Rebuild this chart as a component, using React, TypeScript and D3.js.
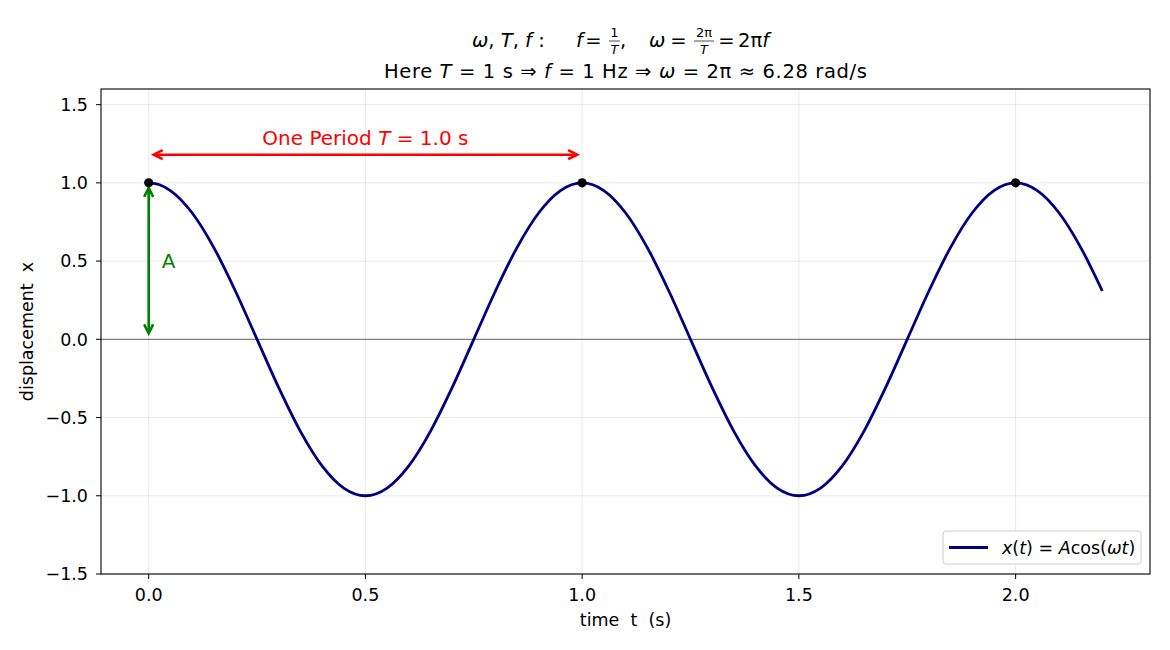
import React from 'react';
import * as d3 from 'd3';

const timeSamples = [
  0, 0.025, 0.05, 0.1, 0.15, 0.2, 0.25, 0.3, 0.35, 0.4, 0.45, 0.5, 0.55, 0.6, 0.65, 0.7, 0.75, 0.8, 0.85, 0.9, 0.95,
  1.0, 1.05, 1.1, 1.15, 1.2, 1.25, 1.3, 1.35, 1.4, 1.45, 1.5, 1.55, 1.6, 1.65, 1.7, 1.75, 1.8, 1.85, 1.9, 1.95,
  2.0, 2.05, 2.1, 2.15, 2.2,
];
const displacement = [
  1, 0.988, 0.951, 0.809, 0.588, 0.309, 0, -0.309, -0.588, -0.809, -0.951, -1, -0.951, -0.809, -0.588, -0.309, 0, 0.309, 0.588, 0.809, 0.951,
  1, 0.951, 0.809, 0.588, 0.309, 0, -0.309, -0.588, -0.809, -0.951, -1, -0.951, -0.809, -0.588, -0.309, 0, 0.309, 0.588, 0.809, 0.951,
  1, 0.951, 0.809, 0.588, 0.309,
];
const peakTimes = [0, 1, 2];
const peakValues = [1, 1, 1];

const xTicks = [0, 0.5, 1.0, 1.5, 2.0];
const yTicks = [-1.5, -1.0, -0.5, 0, 0.5, 1.0, 1.5];

const W = 1170;
const H = 650;
const left = 101;
const right = 1150;
const top = 89;
const bottom = 574;
const FONT = '"DejaVu Sans", sans-serif';

const fmt = (v: number) => {
  const s = v.toFixed(1);
  return v < 0 ? '\u2212' + s.slice(1) : s;
};

// double-headed arrow with open chevron heads
function DoubleArrow({ x1, y1, x2, y2, color }: any) {
  const ang = Math.atan2(y2 - y1, x2 - x1);
  const hl = 9;
  const hw = 4.5;
  const head = (x: number, y: number, a: number) => {
    const bx = x - Math.cos(a) * hl;
    const by = y - Math.sin(a) * hl;
    const px = -Math.sin(a) * hw;
    const py = Math.cos(a) * hw;
    return `M${bx + px},${by + py} L${x},${y} L${bx - px},${by - py}`;
  };
  return (
    <g stroke={color} strokeWidth={2.6} fill="none" strokeLinejoin="miter">
      <line x1={x1} y1={y1} x2={x2} y2={y2} />
      <path d={head(x2, y2, ang)} />
      <path d={head(x1, y1, ang + Math.PI)} />
    </g>
  );
}

export default function App() {
  const x = d3.scaleLinear().domain([-0.11, 2.31]).range([left, right]);
  const y = d3.scaleLinear().domain([-1.5, 1.6]).range([bottom, top]);

  const pts = timeSamples.map((t, i) => [t, displacement[i]] as [number, number]);
  const wave = d3
    .line<[number, number]>()
    .x((d) => x(d[0]))
    .y((d) => y(d[1]))
    .curve(d3.curveMonotoneX)(pts);

  const tickSize = 17.5;
  const titleSize = 19.5;
  const fracSize = 13;

  return (
    <svg width={W} height={H} style={{ position: 'absolute', left: 0, top: 0 }} fontFamily={FONT}>
      <rect width={W} height={H} fill="#fff" />

      {/* title line 1 */}
      <g fontSize={titleSize} fill="#000">
        <text x={472} y={47}>
          <tspan fontStyle="italic">ω</tspan>, <tspan fontStyle="italic">T</tspan>, <tspan fontStyle="italic">f</tspan> :
        </text>
        <text x={576} y={47} fontStyle="italic">f</text>
        <text x={593.5} y={47} textAnchor="middle">=</text>
        <text x={614.5} y={37} fontSize={fracSize} textAnchor="middle">1</text>
        <line x1={609} x2={620} y1={41} y2={41} stroke="#000" strokeWidth={0.7} />
        <text x={614.5} y={54} fontSize={fracSize} textAnchor="middle" fontStyle="italic">T</text>
        <text x={620} y={47}>,</text>
        <text x={649} y={47} fontStyle="italic">ω</text>
        <text x={678.5} y={47} textAnchor="middle">=</text>
        <text x={704} y={37} fontSize={fracSize} textAnchor="middle">2π</text>
        <line x1={694} x2={714} y1={41} y2={41} stroke="#000" strokeWidth={0.7} />
        <text x={704} y={54} fontSize={fracSize} textAnchor="middle" fontStyle="italic">T</text>
        <text x={726.5} y={47} textAnchor="middle">=</text>
        <text x={738} y={47}>
          2π<tspan fontStyle="italic">f</tspan>
        </text>
      </g>
      {/* title line 2 */}
      <text
        x={625.5}
        y={78}
        fontSize={titleSize}
        textAnchor="middle"
        fill="#000"
        textLength={483}
        lengthAdjust="spacing"
      >
        Here <tspan fontStyle="italic">T</tspan> = 1 s ⇒ <tspan fontStyle="italic">f</tspan> = 1 Hz ⇒{' '}
        <tspan fontStyle="italic">ω</tspan> = 2π ≈ 6.28 rad/s
      </text>

      {/* grid */}
      <g stroke="#b0b0b0" strokeOpacity={0.3} strokeWidth={0.9}>
        {xTicks.map((t) => (
          <line key={'gx' + t} x1={x(t)} x2={x(t)} y1={top} y2={bottom} />
        ))}
        {yTicks.map((t) => (
          <line key={'gy' + t} x1={left} x2={right} y1={y(t)} y2={y(t)} />
        ))}
      </g>

      {/* zero line */}
      <line x1={left} x2={right} y1={y(0)} y2={y(0)} stroke="#808080" strokeWidth={1.2} />

      {/* wave */}
      <path d={wave || ''} fill="none" stroke="#000080" strokeWidth={2.8} />

      {/* period arrow */}
      <DoubleArrow x1={x(0) + 5} y1={y(1.18)} x2={x(1) - 5} y2={y(1.18)} color="#ff0000" />
      <text x={x(0.5)} y={144.5} textAnchor="middle" fontSize={20} fill="#ff0000">
        One Period <tspan fontStyle="italic">T</tspan> = 1.0 s
      </text>

      {/* amplitude arrow */}
      <DoubleArrow x1={x(0)} y1={y(1) + 5} x2={x(0)} y2={y(0) - 6} color="#008000" />
      <text x={x(0.03)} y={y(0.5)} dy="0.36em" fontSize={20} fill="#008000">
        A
      </text>

      {/* peaks */}
      {peakTimes.map((t, i) => (
        <circle key={'p' + t} cx={x(t)} cy={y(peakValues[i])} r={4.6} fill="#000" />
      ))}

      {/* frame */}
      <rect x={left} y={top} width={right - left} height={bottom - top} fill="none" stroke="#000" strokeWidth={1.1} />

      {/* ticks */}
      <g fontSize={tickSize} fill="#000">
        {xTicks.map((t) => (
          <g key={'xt' + t}>
            <line x1={x(t)} x2={x(t)} y1={bottom} y2={bottom + 5} stroke="#000" strokeWidth={1} />
            <text x={x(t)} y={601} textAnchor="middle">
              {fmt(t)}
            </text>
          </g>
        ))}
        {yTicks.map((t) => (
          <g key={'yt' + t}>
            <line x1={left - 5} x2={left} y1={y(t)} y2={y(t)} stroke="#000" strokeWidth={1} />
            <text x={88} y={y(t)} dy="0.36em" textAnchor="end">
              {fmt(t)}
            </text>
          </g>
        ))}
      </g>

      {/* axis labels */}
      <text x={(left + right) / 2} y={626} textAnchor="middle" fontSize={tickSize} style={{ whiteSpace: 'pre' }}>
        {'time  t  (s)'}
      </text>
      <text
        transform={`translate(33,${(top + bottom) / 2}) rotate(-90)`}
        textAnchor="middle"
        fontSize={tickSize}
        style={{ whiteSpace: 'pre' }}
      >
        {'displacement  x'}
      </text>

      {/* legend */}
      <g>
        <rect x={943} y={531} width={198} height={33} rx={3} fill="#fff" fillOpacity={0.8} stroke="#cccccc" />
        <line x1={949} x2={988} y1={547.5} y2={547.5} stroke="#000080" strokeWidth={2.8} />
        <text x={1002} y={547.5} dy="0.36em" fontSize={tickSize}>
          <tspan fontStyle="italic">x</tspan>(<tspan fontStyle="italic">t</tspan>) = <tspan fontStyle="italic">A</tspan>cos(
          <tspan fontStyle="italic">ωt</tspan>)
        </text>
      </g>
    </svg>
  );
}
